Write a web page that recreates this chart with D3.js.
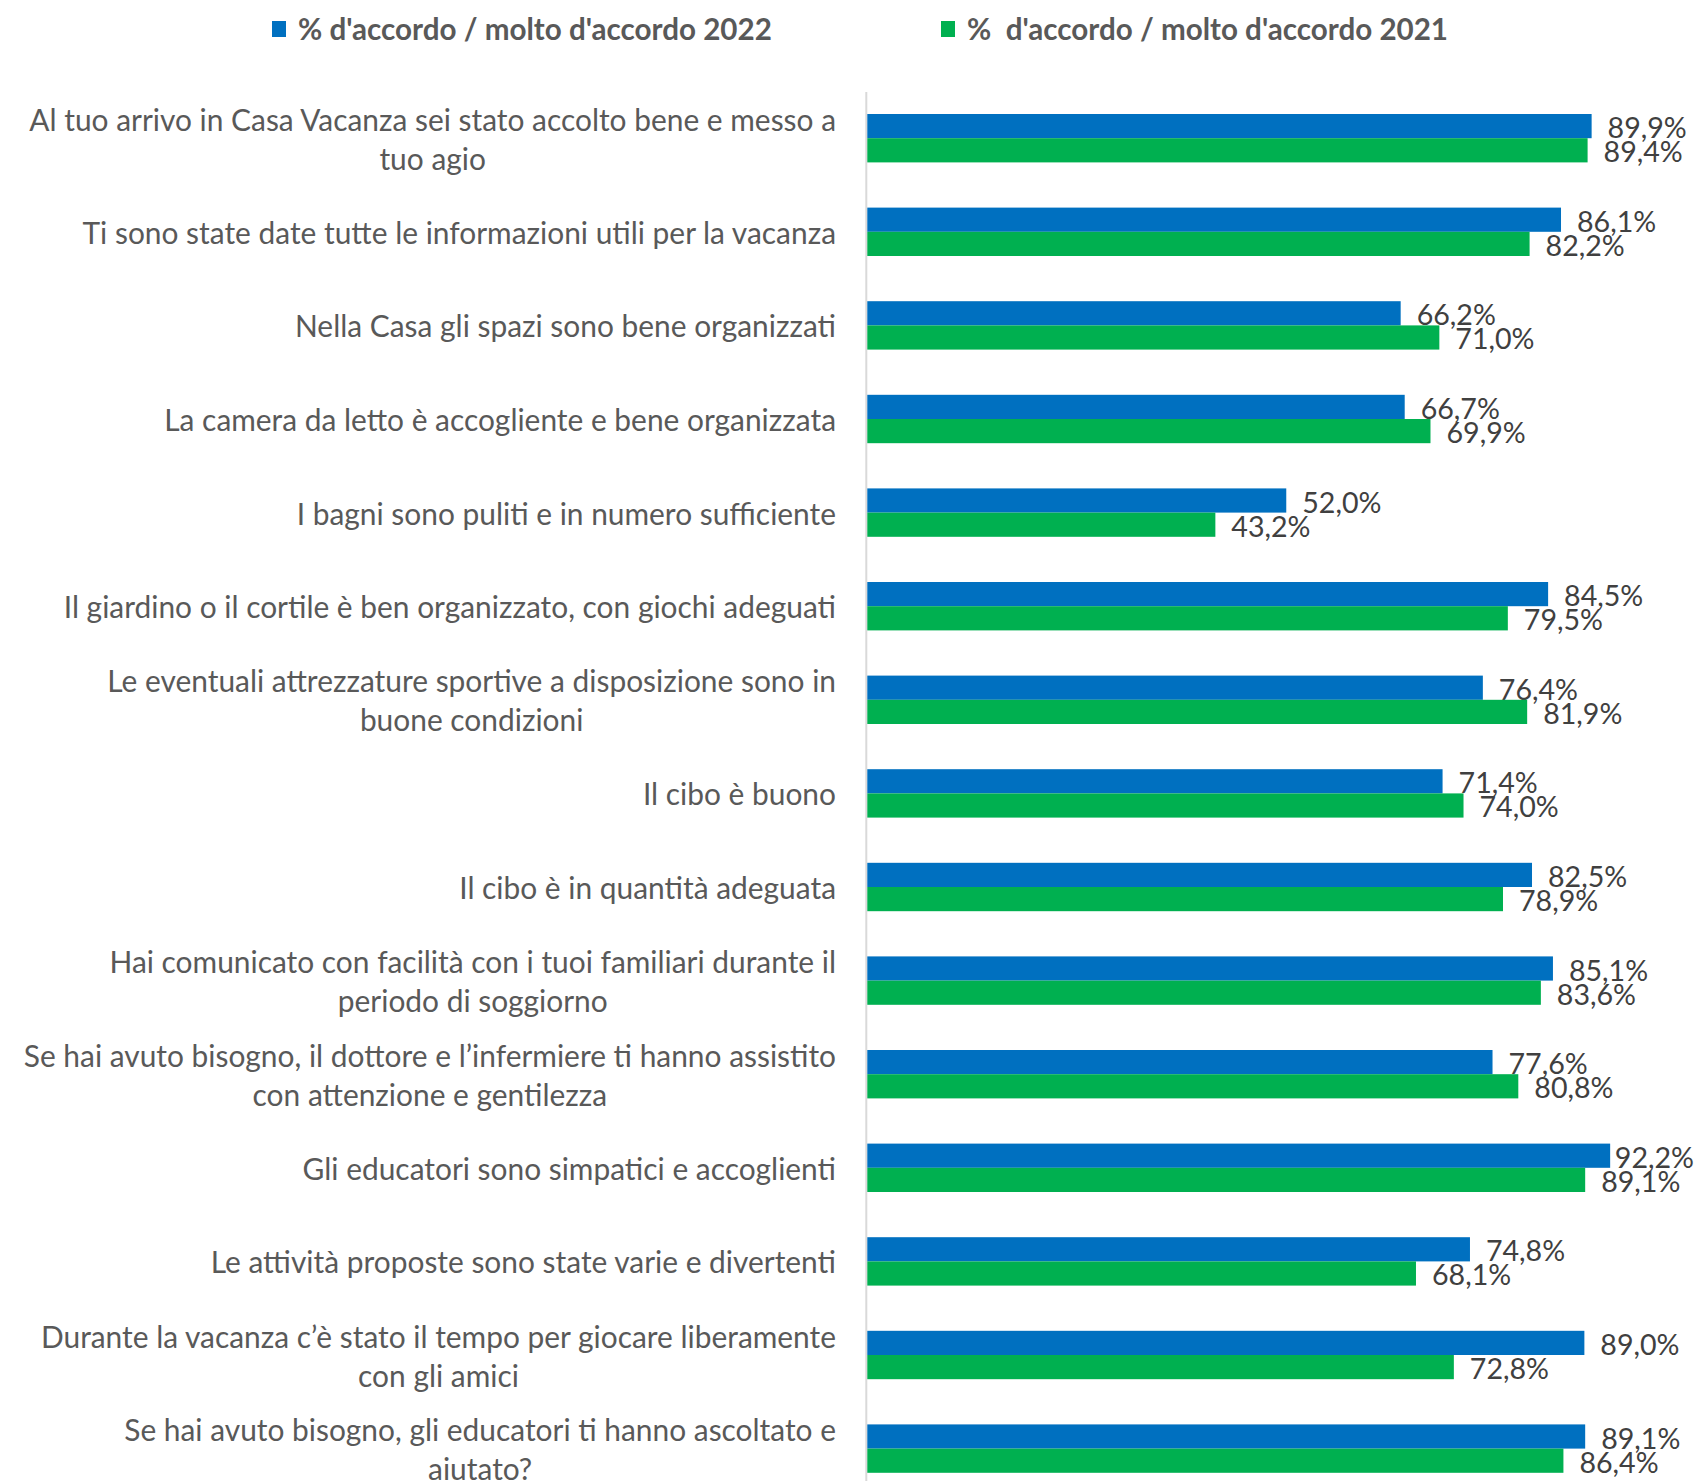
<!DOCTYPE html>
<html><head><meta charset="utf-8">
<script src="https://cdn.jsdelivr.net/npm/d3@7"></script>
<style>body{margin:0;background:#fff}svg{display:block}</style>
</head><body>
<svg id="c" width="1702" height="1481"></svg>
<script>
const categories = [
  ["Al tuo arrivo in Casa Vacanza sei stato accolto bene e messo a", "tuo agio"],
  ["Ti sono state date tutte le informazioni utili per la vacanza"],
  ["Nella Casa gli spazi sono bene organizzati"],
  ["La camera da letto è accogliente e bene organizzata"],
  ["I bagni sono puliti e in numero sufficiente"],
  ["Il giardino o il cortile è ben organizzato, con giochi adeguati"],
  ["Le eventuali attrezzature sportive a disposizione sono in", "buone condizioni"],
  ["Il cibo è buono"],
  ["Il cibo è in quantità adeguata"],
  ["Hai comunicato con facilità con i tuoi familiari durante il", "periodo di soggiorno"],
  ["Se hai avuto bisogno, il dottore e l’infermiere ti hanno assistito", "con attenzione e gentilezza"],
  ["Gli educatori sono simpatici e accoglienti"],
  ["Le attività proposte sono state varie e divertenti"],
  ["Durante la vacanza c’è stato il tempo per giocare liberamente", "con gli amici"],
  ["Se hai avuto bisogno, gli educatori ti hanno ascoltato e", "aiutato?"]
];
const values2022 = [89.9, 86.1, 66.2, 66.7, 52.0, 84.5, 76.4, 71.4, 82.5, 85.1, 77.6, 92.2, 74.8, 89.0, 89.1];
const values2021 = [89.4, 82.2, 71.0, 69.9, 43.2, 79.5, 81.9, 74.0, 78.9, 83.6, 80.8, 89.1, 68.1, 72.8, 86.4];
const seriesNames = ["% d'accordo / molto d'accordo 2022", "%  d'accordo / molto d'accordo 2021"];
const colors = ["#0070C0", "#00B050"];

const svg = d3.select("#c");
const FONT = "Lato, 'Open Sans', sans-serif";
const x = d3.scaleLinear().domain([0, 100]).range([867.3, 1673]);
const y = d3.scaleBand().domain(d3.range(categories.length)).range([91.4, 91.4 + 93.6 * categories.length]).paddingInner(0.483).paddingOuter(0.2415);
const sub = d3.scaleBand().domain([0, 1]).range([0, y.bandwidth()]);
const locale = d3.formatLocale({decimal: ",", thousands: ".", grouping: [3], currency: ["", "€"]});
const fmt = v => locale.format(".1f")(v) + "%";
const rightLimit = 1694;

// axis line
svg.append("line").attr("x1", x(0) - 1).attr("x2", x(0) - 1).attr("y1", 92).attr("y2", 1481)
  .attr("stroke", "#d9d9d9").attr("stroke-width", 2);

const series = [values2022, values2021];
series.forEach((vals, si) => {
  const g = svg.append("g");
  g.selectAll("rect").data(vals).join("rect")
    .attr("x", x(0)).attr("y", (d, i) => y(i) + sub(si))
    .attr("width", d => x(d) - x(0)).attr("height", sub.bandwidth())
    .attr("fill", colors[si]);
  g.selectAll("text").data(vals).join("text")
    .attr("y", (d, i) => y(i) + sub(si) + sub.bandwidth() / 2 + 1)
    .attr("dominant-baseline", "central")
    .attr("font-family", FONT).attr("font-size", 28.6).attr("fill", "#404040")
    .text(d => fmt(d))
    .attr("x", function(d) {
      const w = this.getComputedTextLength();
      return Math.min(x(d) + 16, rightLimit - w);
    });
});

// category labels
const right = 836;
const lh = 39;
categories.forEach((lines, i) => {
  const cy = y(i) + y.bandwidth() / 2;
  const t = svg.append("text").attr("font-family", FONT).attr("font-size", 29.9).attr("fill", "#595959");
  const spans = lines.map((ln, k) => t.append("tspan").attr("x", 0)
    .attr("y", cy + (k - (lines.length - 1) / 2) * lh).attr("dominant-baseline", "central").text(ln));
  if (lines.length === 1) {
    t.attr("text-anchor", "end"); spans[0].attr("x", right);
  } else {
    const w = d3.max(spans, s => s.node().getComputedTextLength());
    t.attr("text-anchor", "middle"); spans.forEach(s => s.attr("x", right - w / 2));
  }
});

// legend
const legX = [272, 941];
seriesNames.forEach((name, i) => {
  svg.append("rect").attr("x", legX[i]).attr("y", 21).attr("width", 14).attr("height", 16).attr("fill", colors[i]);
  svg.append("text").attr("x", legX[i] + 26).attr("y", 28).attr("dominant-baseline", "central")
    .attr("font-family", FONT).attr("font-weight", "bold").attr("font-size", 29.6).attr("fill", "#595959")
    .attr("xml:space", "preserve").style("white-space", "pre").text(name);
});
</script>
</body></html>
